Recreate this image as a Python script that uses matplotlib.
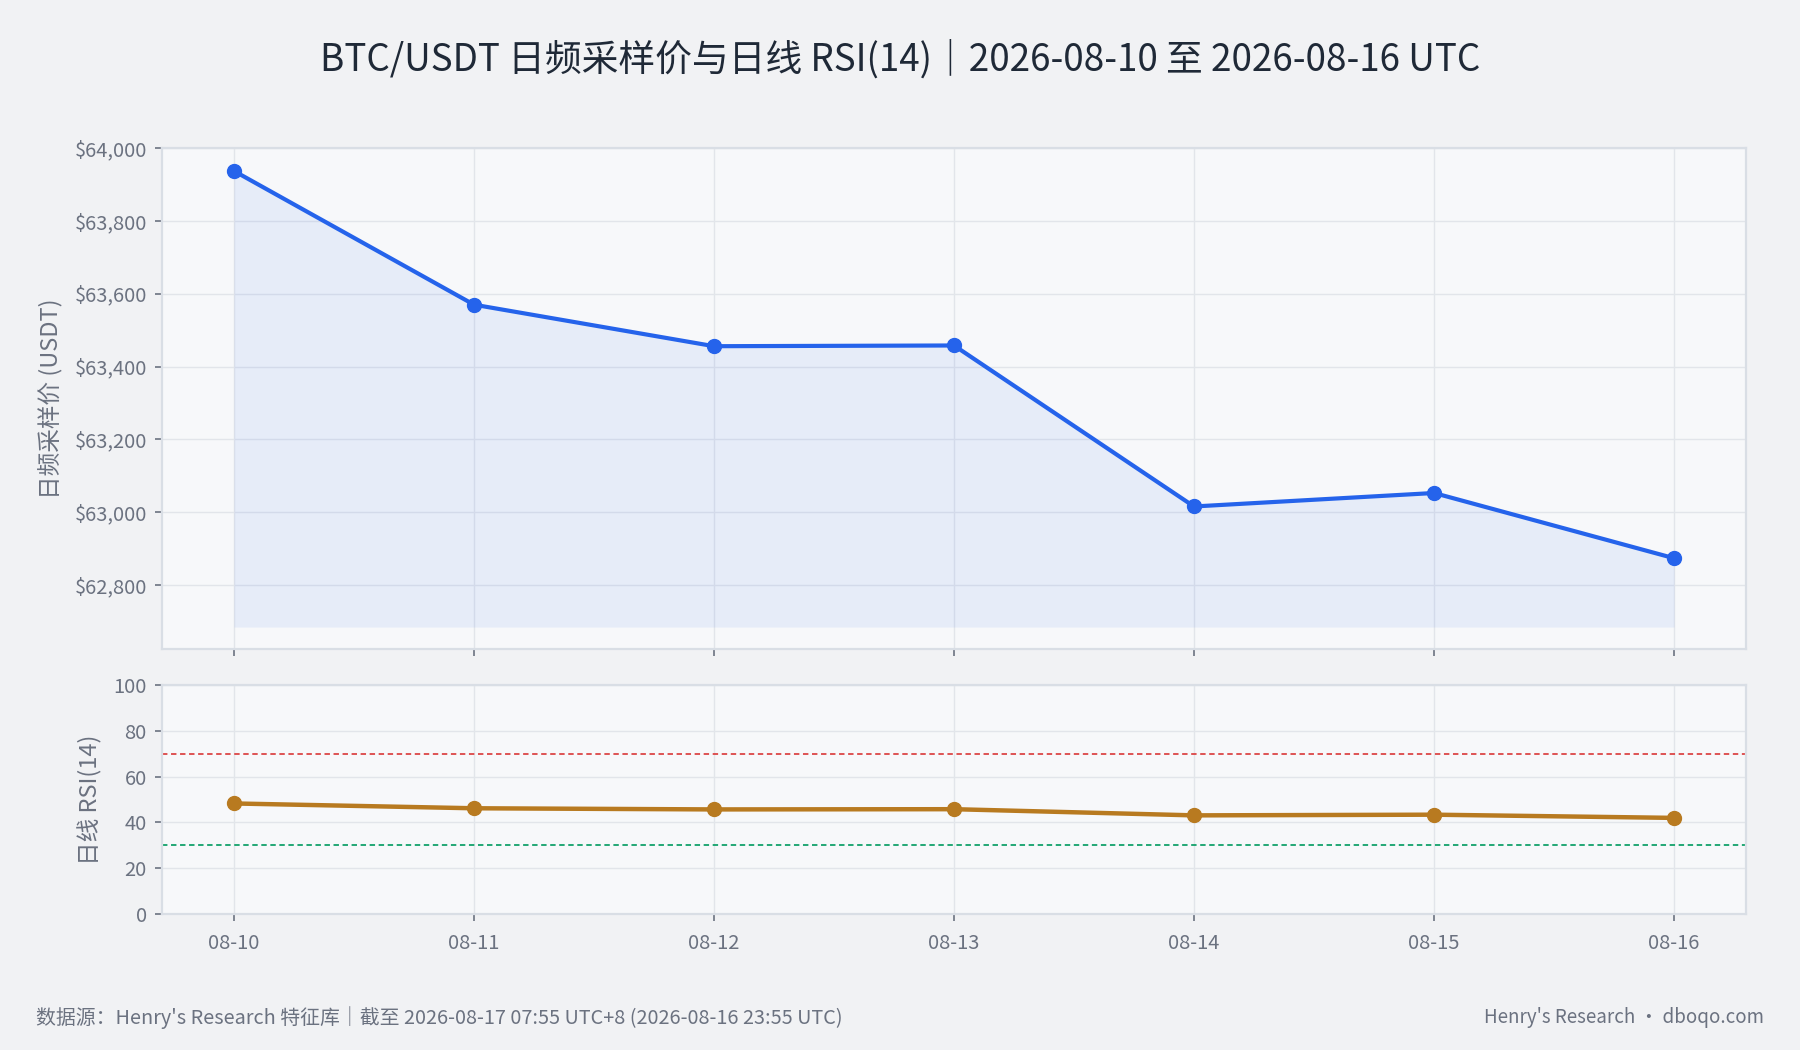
import matplotlib
matplotlib.use("Agg")
import matplotlib.pyplot as plt
from matplotlib.ticker import FuncFormatter, MultipleLocator

plt.rcParams["font.family"] = ["Noto Sans CJK SC", "DejaVu Sans"]

# 数据
dates = ["08-10", "08-11", "08-12", "08-13", "08-14", "08-15", "08-16"]
price = [63937, 63570, 63456, 63458, 63016, 63053, 62874]
rsi = [48.3, 46.2, 45.7, 45.8, 43.1, 43.4, 42.0]
overbought = 70
oversold = 30

bg = "#f1f2f4"
face = "#f7f8fa"
spine_c = "#d9dee5"
grid_c = "#e2e5ea"
text_c = "#6b7280"
blue = "#2563eb"
ochre = "#b87a20"

x = list(range(len(dates)))

fig = plt.figure(figsize=(18, 10.5), dpi=100, facecolor=bg)
ax1 = fig.add_axes([0.09, 0.382, 0.88, 0.477])
ax2 = fig.add_axes([0.09, 0.1295, 0.88, 0.218])

for ax in (ax1, ax2):
    ax.set_facecolor(face)
    for s in ax.spines.values():
        s.set_color(spine_c)
        s.set_linewidth(1.6)
    ax.grid(True, color=grid_c, linewidth=1)
    ax.set_axisbelow(True)
    ax.tick_params(colors=text_c, labelsize=14.5, length=5, width=1.2, pad=6)
    ax.set_xlim(-0.3, len(dates) - 1 + 0.3)
    ax.set_xticks(x)

# 价格
ax1.fill_between(x, price, 62685, color=blue, alpha=0.08, linewidth=0)
ax1.plot(x, price, color=blue, linewidth=3, marker="o", markersize=10)
ax1.set_ylim(62625, 64000)
ax1.yaxis.set_major_locator(MultipleLocator(200))
ax1.yaxis.set_major_formatter(FuncFormatter(lambda v, p: f"${v:,.0f}"))
ax1.set_xticklabels([])
ax1.set_ylabel("日频采样价 (USDT)", fontsize=17, color=text_c, labelpad=8)

# RSI
ax2.axhline(overbought, color="#dc4646", linestyle="--", linewidth=1.3, dashes=(3, 2))
ax2.axhline(oversold, color="#12a16a", linestyle="--", linewidth=1.3, dashes=(3, 2))
ax2.plot(x, rsi, color=ochre, linewidth=3.2, marker="o", markersize=10)
ax2.set_ylim(0, 100)
ax2.yaxis.set_major_locator(MultipleLocator(20))
ax2.set_xticklabels(dates)
ax2.tick_params(axis="x", pad=9)
ax2.set_ylabel("日线 RSI(14)", fontsize=17, color=text_c, labelpad=8)

fig.text(0.5, 0.943, "BTC/USDT 日频采样价与日线 RSI(14)｜2026-08-10 至 2026-08-16 UTC",
         ha="center", va="center", fontsize=26.5, color="#1f2937")
fig.text(0.02, 0.031, "数据源：Henry's Research 特征库｜截至 2026-08-17 07:55 UTC+8 (2026-08-16 23:55 UTC)",
         ha="left", va="center", fontsize=14.3, color=text_c)
fig.text(0.98, 0.031, "Henry's Research · dboqo.com",
         ha="right", va="center", fontsize=13.5, color=text_c)

fig.savefig("out.png", dpi=100, facecolor=bg)
